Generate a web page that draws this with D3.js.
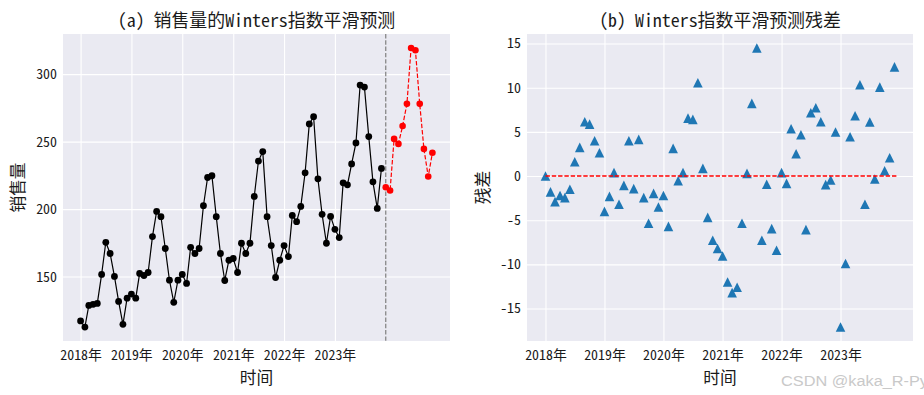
<!DOCTYPE html>
<html><head><meta charset="utf-8">
<script src="https://cdn.jsdelivr.net/npm/d3@7"></script>
<style>
body{margin:0;background:#fff}
svg{display:block}
</style>
</head><body>
<svg id="c" width="924" height="395"></svg>
<script>
// ---------------- data ----------------
const salesStart = new Date(2018, 0, 1);
const forecastStart = new Date(2024, 0, 1);
const sales = [117.1,112.6,128.6,129.4,130.1,151.6,175.4,167.1,150.1,131.6,114.6,134.0,
               137.0,134.0,152.3,150.8,153.0,179.6,198.3,194.4,170.8,147.3,130.9,147.3,
               151.6,144.9,171.7,167.1,170.8,202.5,223.4,224.7,194.4,167.1,147.1,162.1,
               163.4,153.0,174.7,167.1,174.7,209.4,235.6,242.6,194.4,173.0,149.3,162.1,
               173.0,164.8,195.3,190.7,202.0,226.9,263.1,268.5,222.4,196.1,174.7,194.6,
               185.0,178.9,219.5,218.0,233.5,249.0,291.9,290.4,253.7,220.2,200.5,230.1];
const forecast = [216.2,213.8,252.0,248.3,261.6,278.0,319.4,317.7,278.0,244.6,224.2,241.7];
const residuals = [0.0,-1.8,-2.9,-2.2,-2.45,-1.5,1.62,3.24,6.14,5.88,4.0,2.64,
                   -4.0,-2.3,0.38,-3.2,-1.06,4.0,-1.43,4.15,-2.45,-5.35,-1.96,-3.5,
                   -2.2,-5.7,3.13,-0.53,0.38,6.56,6.41,10.56,0.87,-4.68,-7.28,-8.2,
                   -9.05,-12.0,-13.2,-12.6,-5.35,0.3,8.22,14.5,-7.28,-0.94,-5.96,-8.4,
                   0.38,-0.83,5.35,2.52,4.67,-6.07,7.16,7.73,6.14,-0.98,-0.45,4.98,
                   -17.1,-9.9,4.45,6.82,10.33,-3.2,6.11,-0.34,10.07,0.6,2.07,12.36];
const yearTicks = [2018,2019,2020,2021,2022,2023];
const yearTickLabels = ["2018年","2019年","2020年","2021年","2022年","2023年"];
const leftYTicks = [150,200,250,300];
const rightYTicks = [-15,-10,-5,0,5,10,15];
const titles = ["(a) 销售量的Winters指数平滑预测","(b) Winters指数平滑预测残差"];
const xLabel = "时间";
const yLabels = ["销售量","残差"];
const watermark = "CSDN @kaka_R-Py";

// ---------------- helpers ----------------
const salesMonths = sales.map((_, i) => d3.timeMonth.offset(salesStart, i));
const forecastMonths = forecast.map((_, i) => d3.timeMonth.offset(forecastStart, i));
const resMonths = residuals.map((_, i) => d3.timeMonth.offset(salesStart, i));
const yearDates = yearTicks.map(y => new Date(y, 0, 1));

function units(s){let u=0;for(const ch of s){u += ch.codePointAt(0) > 0x2E80 ? 1 : 0.5;}return u;}
function fit(sel, fs){sel.attr("textLength", function(){return units(this.textContent)*fs;}).attr("lengthAdjust","spacingAndGlyphs");}
function padDomain(lo, hi, p){const d=(hi-lo)*p;return [lo-d, hi+d];}
function padTime(a, b, p){const d=(b-a)*p;return [new Date(+a-d), new Date(+b+d)];}

const svg = d3.select("#c");
const BG = "#EAEAF2", TXT = "#1a1a1a";
const FONT = '"Noto Sans Mono CJK SC","Noto Sans CJK SC",sans-serif';
const pTop = 34, pBot = 341;
const tickFs = 13.9, labFs = 16.7, titleFs = 17.9;

function panel(x0, x1, xs, ys, yTicks, title, yLab, yLabX){
  const g = svg.append("g");
  g.append("rect").attr("x",x0).attr("y",pTop).attr("width",x1-x0).attr("height",pBot-pTop).attr("fill",BG);
  // grid
  g.append("g").attr("transform",`translate(${x0},0)`)
    .call(d3.axisLeft(ys).tickValues(yTicks).tickSize(-(x1-x0)).tickFormat(""))
    .call(a=>{a.select(".domain").remove();a.selectAll("line").attr("stroke","#fff").attr("stroke-width",1.1);});
  g.append("g").attr("transform",`translate(0,${pBot})`)
    .call(d3.axisBottom(xs).tickValues(yearDates).tickSize(-(pBot-pTop)).tickFormat(""))
    .call(a=>{a.select(".domain").remove();a.selectAll("line").attr("stroke","#fff").attr("stroke-width",1.1);});
  // tick labels
  const xa = g.append("g").attr("transform",`translate(0,${pBot})`)
    .call(d3.axisBottom(xs).tickValues(yearDates).tickSize(0).tickPadding(9).tickFormat((d,i)=>yearTickLabels[i]));
  xa.select(".domain").remove();
  xa.selectAll("text").attr("font-size",tickFs).attr("fill",TXT).attr("font-family",FONT).call(fit,tickFs);
  const ya = g.append("g").attr("transform",`translate(${x0},0)`)
    .call(d3.axisLeft(ys).tickValues(yTicks).tickSize(0).tickPadding(6).tickFormat(d=>String(d)));
  ya.select(".domain").remove();
  ya.selectAll("text").attr("font-size",tickFs).attr("fill",TXT).attr("font-family",FONT).call(fit,tickFs);
  // title & labels
  svg.append("text").attr("x",(x0+x1)/2).attr("y",27).attr("text-anchor","middle").attr("font-family",FONT)
    .attr("font-size",titleFs).attr("fill",TXT).text(title).call(fit,titleFs);
  svg.append("text").attr("x",(x0+x1)/2).attr("y",384).attr("text-anchor","middle").attr("font-family",FONT)
    .attr("font-size",labFs).attr("fill",TXT).text(xLabel).call(fit,labFs);
  svg.append("text").attr("transform",`translate(${yLabX},${(pTop+pBot)/2}) rotate(-90)`).attr("text-anchor","middle")
    .attr("font-family",FONT).attr("font-size",labFs).attr("fill",TXT).text(yLab).call(fit,labFs);
  return g;
}

// ---------------- left panel ----------------
const lx = d3.scaleTime().domain(padTime(salesMonths[0], forecastMonths[forecastMonths.length-1], 0.05)).range([63,450]);
const ly = d3.scaleLinear().domain(padDomain(d3.min(sales.concat(forecast)), d3.max(sales.concat(forecast)), 0.05)).range([pBot, pTop]);
const gl = panel(63, 450, lx, ly, leftYTicks, titles[0], yLabels[0], 24);

gl.append("line").attr("x1",lx(forecastStart)).attr("x2",lx(forecastStart)).attr("y1",pTop).attr("y2",pBot)
  .attr("stroke","#808080").attr("stroke-width",1.2).attr("stroke-dasharray","4.4,1.9");

const line = d3.line().x(d=>lx(d[0])).y(d=>ly(d[1]));
gl.append("path").datum(salesMonths.map((d,i)=>[d,sales[i]])).attr("d",line)
  .attr("fill","none").attr("stroke","#000").attr("stroke-width",1.2);
gl.selectAll(".bk").data(sales).join("circle").attr("cx",(d,i)=>lx(salesMonths[i])).attr("cy",d=>ly(d))
  .attr("r",3.4).attr("fill","#000");
gl.append("path").datum(forecastMonths.map((d,i)=>[d,forecast[i]])).attr("d",line)
  .attr("fill","none").attr("stroke","#ff0000").attr("stroke-width",1.2).attr("stroke-dasharray","4.4,1.9");
gl.selectAll(".rd").data(forecast).join("circle").attr("cx",(d,i)=>lx(forecastMonths[i])).attr("cy",d=>ly(d))
  .attr("r",3.3).attr("fill","#ff0000");

// ---------------- right panel ----------------
const rx = d3.scaleTime().domain(padTime(resMonths[0], resMonths[resMonths.length-1], 0.053)).range([527,913]);
const ry = d3.scaleLinear().domain(padDomain(d3.min(residuals), d3.max(residuals), 0.05)).range([pBot, pTop]);
const gr = panel(527, 913, rx, ry, rightYTicks, titles[1], yLabels[1], 489);

const tri = (x,y,s)=>`M${x},${y-s/2}L${x+s/2},${y+s/2}L${x-s/2},${y+s/2}Z`;
gr.selectAll(".tr").data(residuals).join("path").attr("d",(d,i)=>tri(rx(resMonths[i]), ry(d), 9.6))
  .attr("fill","#1f77b4");
gr.append("line").attr("x1",rx(resMonths[0])).attr("x2",rx(resMonths[resMonths.length-1])+3)
  .attr("y1",ry(0)).attr("y2",ry(0)).attr("stroke","#ff0000").attr("stroke-width",1.3).attr("stroke-dasharray","4.4,1.9");

// watermark
svg.append("text").attr("x",781).attr("y",386).attr("font-size",15.5).attr("fill","#c9c9c9")
  .attr("font-family",'"Liberation Sans Narrow","Liberation Sans",sans-serif').text(watermark)
  .attr("textLength",147).attr("lengthAdjust","spacingAndGlyphs");
</script>
</body></html>
